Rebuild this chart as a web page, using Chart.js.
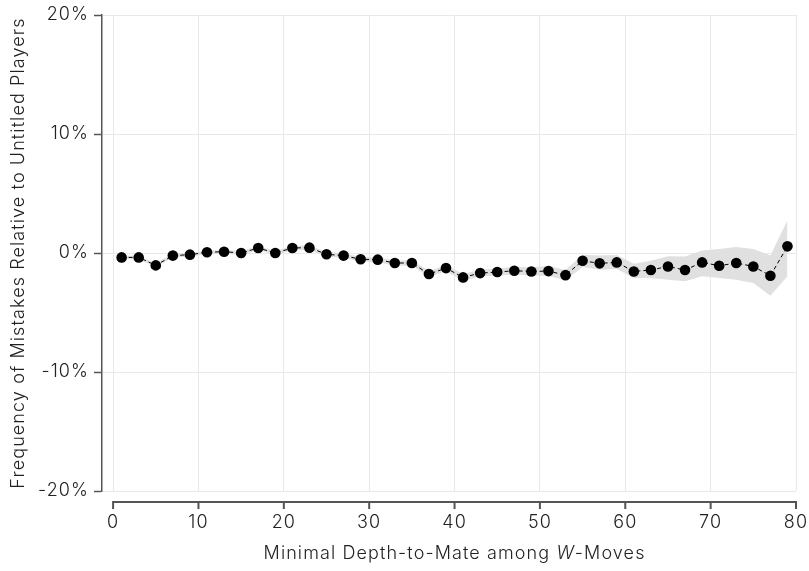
<!DOCTYPE html>
<html>
<head>
<meta charset="utf-8">
<script src="https://cdn.jsdelivr.net/npm/chart.js@4.4.1/dist/chart.umd.min.js"></script>
<style>
  html, body { margin: 0; padding: 0; background: #fff; }
  #wrap { width: 809px; height: 571px; }
</style>
</head>
<body>
<div id="wrap"><canvas id="chart" width="809" height="571"></canvas></div>
<script>
// data
const depth = [1, 3, 5, 7, 9, 11, 13, 15, 17, 19, 21, 23, 25, 27, 29, 31, 33, 35, 37, 39,
               41, 43, 45, 47, 49, 51, 53, 55, 57, 59, 61, 63, 65, 67, 69, 71, 73, 75, 77, 79];
const estimate = [-0.37, -0.37, -1.04, -0.22, -0.14, 0.06, 0.11, 0.0, 0.42, 0.0,
                  0.42, 0.45, -0.11, -0.22, -0.53, -0.56, -0.84, -0.84, -1.77, -1.27,
                  -2.05, -1.69, -1.60, -1.49, -1.55, -1.52, -1.86, -0.65, -0.87, -0.79,
                  -1.55, -1.43, -1.13, -1.43, -0.79, -1.07, -0.84, -1.13, -1.91, 0.56];
const ciLower = [-0.52, -0.51, -1.19, -0.37, -0.29, -0.09, -0.04, -0.16, 0.25, -0.17,
                 0.24, 0.26, -0.30, -0.41, -0.73, -0.77, -1.06, -1.07, -2.02, -1.53,
                 -2.33, -1.98, -1.90, -1.80, -1.90, -1.94, -2.30, -1.18, -1.40, -1.34,
                 -2.10, -2.10, -2.24, -2.38, -1.96, -2.10, -2.24, -2.52, -3.59, -1.96];
const ciUpper = [-0.22, -0.23, -0.89, -0.07, 0.01, 0.21, 0.26, 0.16, 0.59, 0.17,
                 0.60, 0.64, 0.08, -0.03, -0.33, -0.35, -0.62, -0.61, -1.52, -1.01,
                 -1.77, -1.40, -1.30, -1.18, -1.20, -1.10, -1.42, -0.14, -0.22, -0.16,
                 -0.90, -0.66, -0.28, -0.30, 0.22, 0.34, 0.50, 0.34, -0.22, 2.75];
const xTicks = [0, 10, 20, 30, 40, 50, 60, 70, 80];
const yTicks = [-20, -10, 0, 10, 20];
const xTitle = ['Minimal Depth-to-Mate among ', 'W', '-Moves'];
const yTitle = 'Frequency of Mistakes Relative to Untitled Players';

const FONT = 'Inter, "Liberation Sans", sans-serif';
const SIZE = 18;
const SPACING = '1.1px';
const TEXT = '#222';

function pts(ys) {
    return depth.map((d, i) => ({ x: d, y: ys[i] }));
}

// wider tracking on all canvas text, set again whenever the context may be reset
const tracking = {
    id: 'tracking',
    beforeLayout(chart) { chart.ctx.letterSpacing = SPACING; },
    beforeDraw(chart) { chart.ctx.letterSpacing = SPACING; }
};

// x axis is drawn detached below the plot, like the original
const detachedXAxis = {
    id: 'detachedXAxis',
    afterDraw(chart) {
        const { ctx, chartArea, scales: { x } } = chart;
        const yAxis = chartArea.bottom + 11;
        const x0 = x.getPixelForValue(xTicks[0]);
        const x1 = x.getPixelForValue(xTicks[xTicks.length - 1]);
        ctx.save();
        ctx.strokeStyle = '#555';
        ctx.lineWidth = 2;
        ctx.beginPath();
        ctx.moveTo(x0, yAxis);
        ctx.lineTo(x1, yAxis);
        xTicks.forEach(v => {
            const px = x.getPixelForValue(v);
            ctx.moveTo(px, yAxis - 1);
            ctx.lineTo(px, yAxis + 7);
        });
        ctx.stroke();

        // title with italic W
        const normal = '300 ' + SIZE + 'px ' + FONT;
        const italic = 'italic 300 ' + SIZE + 'px ' + FONT;
        const fonts = [normal, italic, normal];
        ctx.letterSpacing = SPACING;
        let total = 0;
        const widths = xTitle.map((s, i) => {
            ctx.font = fonts[i];
            const w = ctx.measureText(s).width;
            total += w;
            return w;
        });
        let cx = (x0 + x1) / 2 - total / 2;
        const ty = chartArea.bottom + 63;
        ctx.fillStyle = TEXT;
        ctx.textBaseline = 'middle';
        ctx.textAlign = 'left';
        xTitle.forEach((s, i) => {
            ctx.font = fonts[i];
            ctx.fillText(s, cx, ty);
            cx += widths[i];
        });
        ctx.restore();
    }
};

new Chart(document.getElementById('chart'), {
    type: 'line',
    data: {
        datasets: [
            {
                label: 'estimate',
                data: pts(estimate),
                borderColor: '#000',
                borderWidth: 1,
                borderDash: [4, 3],
                pointRadius: 5.3,
                pointBackgroundColor: '#000',
                pointBorderColor: '#000',
                pointBorderWidth: 0,
                tension: 0,
                fill: false,
                order: 0
            },
            {
                label: 'lower',
                data: pts(ciLower),
                borderColor: 'rgba(0,0,0,0)',
                borderWidth: 0,
                pointRadius: 0,
                tension: 0,
                fill: false,
                order: 1
            },
            {
                label: 'upper',
                data: pts(ciUpper),
                borderColor: 'rgba(0,0,0,0)',
                backgroundColor: '#e0e0e0',
                borderWidth: 0,
                pointRadius: 0,
                tension: 0,
                fill: '-1',
                order: 1
            }
        ]
    },
    options: {
        responsive: false,
        animation: false,
        events: [],
        layout: { padding: { left: 0, right: 13, top: 15, bottom: 0 } },
        plugins: {
            legend: { display: false },
            tooltip: { enabled: false }
        },
        scales: {
            x: {
                type: 'linear',
                min: -1.3,
                max: 80,
                afterBuildTicks: s => { s.ticks = xTicks.map(v => ({ value: v })); },
                afterFit: s => { s.height = 80; s.paddingLeft = 0; s.paddingRight = 0; },
                border: { display: false },
                grid: { color: '#e8e8e8', lineWidth: 1, drawTicks: false },
                ticks: {
                    padding: 21,
                    maxRotation: 0,
                    color: TEXT,
                    font: { family: FONT, size: SIZE, weight: 300 }
                }
            },
            y: {
                type: 'linear',
                min: -20,
                max: 20,
                afterBuildTicks: s => { s.ticks = yTicks.map(v => ({ value: v })); },
                afterFit: s => { s.width = 102; s.paddingTop = 0; s.paddingBottom = 0; },
                border: { display: true, color: '#555', width: 1.5 },
                grid: { color: '#e8e8e8', lineWidth: 1, tickLength: 8, tickColor: '#555', tickWidth: 1.5 },
                ticks: {
                    padding: 5,
                    color: TEXT,
                    font: { family: FONT, size: SIZE, weight: 300 },
                    callback: v => v + '%'
                },
                title: {
                    display: true,
                    text: yTitle,
                    color: TEXT,
                    padding: { top: 8, bottom: 0 },
                    font: { family: FONT, size: SIZE, weight: 300 }
                }
            }
        }
    },
    plugins: [tracking, detachedXAxis]
});
</script>
</body>
</html>
